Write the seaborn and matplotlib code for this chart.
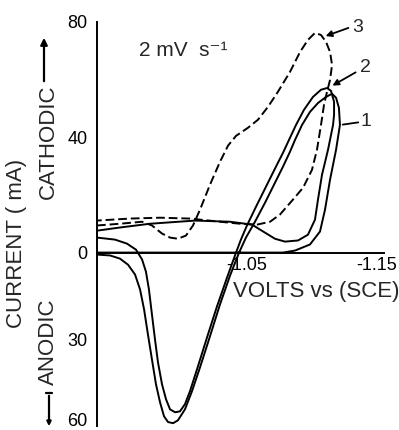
import matplotlib
matplotlib.use('Agg')
import matplotlib.pyplot as plt
from matplotlib.lines import Line2D
from matplotlib.transforms import ScaledTranslation
import pandas as pd
import seaborn as sns

# Curve 1 (solid): forward scan, switching peak, reverse scan with anodic trough
volts_1 = [-0.950, -0.9869, -1.0218, -1.0566, -1.0796, -1.0880, -1.0984, -1.1054,
           -1.1089, -1.1124, -1.1166, -1.1193, -1.1186, -1.1166, -1.1138, -1.1096,
           -1.1040, -1.0984, -1.0929, -1.0880, -1.0845, -1.0796, -1.0740, -1.0671,
           -1.0601, -1.0538, -1.0490, -1.0427, -1.0357, -1.0287, -1.0218, -1.0162,
           -1.0113, -1.0064, -1.0030, -0.9995, -0.9967, -0.9939, -0.9911, -0.9883,
           -0.9855, -0.9828, -0.9800, -0.9765, -0.9716, -0.9660, -0.9591, -0.950]
current_1 = [0.0, 0.0, 0.0, 0.0, 0.0, 0.7, 2.8, 7.3,
             14.9, 25.3, 35.7, 44.3, 50.2, 53.7, 55.1, 54.0,
             51.9, 48.8, 44.3, 39.1, 35.0, 29.8, 24.2, 17.3,
             10.7, 5.2, 0.0, -8.0, -18.0, -29.1, -39.8, -48.1,
             -54.4, -58.2, -59.2, -58.8, -56.8, -51.9, -45.7, -37.1,
             -28.4, -19.7, -12.8, -7.6, -4.2, -2.1, -1.0, -0.7]

# Curve 2 (solid)
volts_2 = [-0.950, -0.9660, -0.9869, -1.0183, -1.0427, -1.0580, -1.0671, -1.0740,
           -1.0810, -1.0901, -1.0970, -1.1019, -1.1040, -1.1068, -1.1110, -1.1145,
           -1.1152, -1.1152, -1.1131, -1.1103, -1.1061, -1.1005, -1.0942, -1.0887,
           -1.0838, -1.0796, -1.0747, -1.0678, -1.0608, -1.0545, -1.0503, -1.0469,
           -1.0406, -1.0336, -1.0267, -1.0197, -1.0148, -1.0113, -1.0078, -1.0044,
           -1.0009, -0.9981, -0.9953, -0.9925, -0.9904, -0.9883, -0.9862, -0.9841,
           -0.9814, -0.9772, -0.9709, -0.9625, -0.950]
current_2 = [7.6, 8.7, 10.0, 11.1, 10.7, 9.7, 6.9, 4.8,
             3.8, 4.2, 6.2, 11.4, 18.4, 27.0, 35.7, 44.3,
             47.8, 52.3, 56.1, 57.1, 56.5, 54.0, 49.5, 44.3,
             39.1, 34.6, 29.8, 22.9, 15.9, 9.4, 4.5, 0.0,
             -8.7, -18.7, -29.4, -40.5, -48.1, -52.6, -55.1, -55.4,
             -54.4, -50.9, -45.7, -38.1, -30.1, -21.5, -12.8, -6.6,
             -2.4, 1.0, 3.1, 4.5, 5.2]

# Curve 3 (dashed)
volts_3 = [-0.950, -0.9660, -0.9814, -0.9883, -0.9953, -1.0009, -1.0064, -1.0120,
           -1.0169, -1.0218, -1.0287, -1.0357, -1.0413, -1.0469, -1.0552, -1.0622,
           -1.0692, -1.0761, -1.0845, -1.0915, -1.0970, -1.1019, -1.1061, -1.1096,
           -1.1124, -1.1138, -1.1124, -1.1103, -1.1082, -1.1061, -1.1033, -1.0998,
           -1.0936, -1.0866, -1.0775, -1.0706, -1.0615, -1.0497, -1.0357, -1.0148,
           -0.9939, -0.9730, -0.950]
current_3 = [9.4, 10.0, 10.7, 9.4, 6.6, 5.2, 4.8, 5.9,
             9.4, 14.9, 23.5, 31.5, 37.1, 40.5, 43.3, 46.1,
             50.6, 55.8, 62.7, 69.6, 73.8, 76.2, 75.5, 73.1,
             69.6, 65.1, 59.9, 55.8, 51.3, 44.3, 35.7, 28.7,
             22.5, 18.4, 13.2, 10.7, 9.7, 10.0, 10.7, 11.8,
             12.1, 11.8, 11.1]

y_ticks = [80, 40, 0, -30, -60]
y_tick_labels = ['80', '40', '0', '30', '60']
x_ticks = [-1.05, -1.15]
x_tick_labels = ['-1.05', '-1.15']

sns.set_style('white')
plt.rcParams['font.family'] = ['Liberation Sans', 'DejaVu Sans']

W, H = 399, 430
fig = plt.figure(figsize=(W / 100, H / 100), dpi=100)
ax = fig.add_axes([97 / W, 1 - 425.5 / H, 287 / W, 403.5 / H])


def fx(px):
    return px / W


def fy(py):
    return 1 - py / H


def nudge(label, dx_px, dy_px):
    label.set_transform(label.get_transform() +
                        ScaledTranslation(dx_px / 100, dy_px / 100, fig.dpi_scale_trans))


curves = [
    (volts_1, current_1, '-'),
    (volts_2, current_2, '-'),
    (volts_3, current_3, (0, (4.5, 2))),
]
for v, c, ls in curves:
    df = pd.DataFrame({'volts': v, 'current': c})
    sns.lineplot(data=df, x='volts', y='current', sort=False, estimator=None,
                 ax=ax, color='black', lw=1.4, linestyle=ls)

ax.set_xlim(-0.95, -1.15)
ax.set_ylim(-60, 80)
ax.set_xlabel('')
ax.set_ylabel('')
for s in ['top', 'right']:
    ax.spines[s].set_visible(False)
ax.spines['bottom'].set_position(('data', 0))
for s in ['left', 'bottom']:
    ax.spines[s].set_linewidth(1.4)
    ax.spines[s].set_color('black')

ax.set_yticks(y_ticks)
ax.set_yticklabels(y_tick_labels)
ax.set_xticks(x_ticks)
ax.set_xticklabels(x_tick_labels)
ax.tick_params(axis='both', direction='in', length=10, width=1.4,
               labelsize=13, colors='black')
ax.tick_params(axis='y', pad=7)
ax.tick_params(axis='x', pad=3)

# tick labels sit a little off their ticks in the original
xl = ax.get_xticklabels()
nudge(xl[0], 6, 0)
nudge(xl[1], -7, 0)
yl = ax.get_yticklabels()
nudge(yl[-1], 0, 6)

# texts
fig.text(fx(316), fy(292), 'VOLTS vs (SCE)', fontsize=16, ha='center', va='center')
fig.text(fx(17), fy(243), 'CURRENT ( mA)', fontsize=16, rotation=90,
         ha='center', va='center')
fig.text(fx(48), fy(142), 'CATHODIC', fontsize=16, rotation=90,
         ha='center', va='center')
fig.text(fx(48), fy(342), 'ANODIC', fontsize=16, rotation=90,
         ha='center', va='center')
fig.text(fx(183), fy(50), '2 mV  s⁻¹', fontsize=15, ha='center', va='center')

# direction arrows beside the y label
ax.annotate('', xy=(fx(44), fy(35)), xytext=(fx(44), fy(84)),
            xycoords='figure fraction', textcoords='figure fraction',
            arrowprops=dict(arrowstyle='-|>', lw=1.6, color='black', mutation_scale=10))
ax.annotate('', xy=(fx(49), fy(429)), xytext=(fx(49), fy(393)),
            xycoords='figure fraction', textcoords='figure fraction',
            arrowprops=dict(arrowstyle='-|>', lw=1.6, color='black', mutation_scale=6))
fig.add_artist(Line2D([fx(46), fx(52)], [fy(393), fy(393)], color='black', lw=1.6,
                      transform=fig.transFigure))

# curve labels
fig.text(fx(358), fy(27), '3', fontsize=14, ha='center', va='center')
fig.text(fx(365), fy(68), '2', fontsize=14, ha='center', va='center')
fig.text(fx(366), fy(122), '1', fontsize=14, ha='center', va='center')
ax.annotate('', xy=(fx(323), fy(37)), xytext=(fx(351), fy(27)),
            xycoords='figure fraction', textcoords='figure fraction',
            arrowprops=dict(arrowstyle='-|>', lw=1.3, color='black', mutation_scale=9))
ax.annotate('', xy=(fx(330), fy(87)), xytext=(fx(358), fy(71)),
            xycoords='figure fraction', textcoords='figure fraction',
            arrowprops=dict(arrowstyle='-|>', lw=1.3, color='black', mutation_scale=9))
ax.annotate('', xy=(fx(340), fy(125)), xytext=(fx(361), fy(122)),
            xycoords='figure fraction', textcoords='figure fraction',
            arrowprops=dict(arrowstyle='-', lw=1.3, color='black'))

fig.savefig('out.png', dpi=100)
